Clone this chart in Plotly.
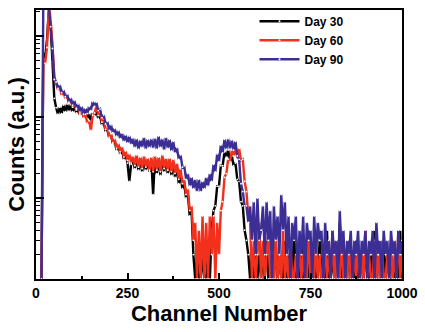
import plotly.graph_objects as go

channels = list(range(15, 1001, 5))

day30 = [
    1, 620, 520, 900, 2000, 1300, 480, 170, 130, 108,
    132, 110, 140, 116, 144, 118, 142, 116, 138, 112,
    130, 106, 124, 100, 118, 96, 110, 88, 112, 104,
    120, 96, 104, 80, 88, 66, 72, 55, 60, 47,
    51, 39, 45, 35, 40, 30, 36, 27, 16, 26,
    30, 23, 32, 22, 31, 21, 30, 22, 29, 21,
    30, 11, 31, 20, 30, 19, 32, 21, 30, 20,
    29, 19, 28, 18, 25, 15, 20, 13, 15, 10,
    11, 6, 7, 2, 1, 2, 1, 1, 2, 1,
    1, 2, 1, 4, 7, 8, 14, 14, 25, 25,
    37, 32, 39, 29, 33, 25, 27, 17, 16, 9,
    8, 4, 3, 2, 1, 2, 1, 3, 1, 2,
    1, 2, 1, 3, 1, 1, 2, 1, 3, 1,
    2, 1, 1, 3, 1, 2, 1, 1, 4, 1,
    2, 1, 3, 1, 1, 2, 1, 3, 1, 2,
    1, 1, 3, 1, 2, 1, 4, 1, 1, 2,
    1, 3, 1, 5, 1, 2, 1, 1, 3, 1,
    2, 1, 3, 1, 1, 2, 1, 3, 1, 1,
    2, 1, 4, 1, 2, 1, 1, 3, 1, 2,
    1, 3, 1, 1, 2, 1, 4, 1,
]

day60 = [
    1, 520, 460, 720, 2400, 1600, 780, 320, 260, 215,
    235, 185, 210, 168, 185, 148, 162, 132, 148, 122,
    135, 108, 120, 98, 108, 84, 90, 68, 105, 112,
    138, 104, 115, 86, 94, 70, 74, 56, 62, 48,
    54, 41, 47, 37, 43, 32, 38, 29, 35, 27,
    33, 25, 34, 24, 32, 23, 33, 24, 31, 22,
    32, 21, 33, 22, 32, 21, 34, 23, 31, 22,
    31, 21, 30, 20, 27, 17, 23, 15, 17, 11,
    13, 7, 8, 3, 5, 1, 4, 1, 6, 1,
    5, 1, 6, 2, 6, 1, 5, 2, 7, 9,
    18, 20, 30, 28, 39, 33, 43, 31, 41, 29,
    30, 16, 12, 6, 5, 1, 3, 1, 2, 5,
    1, 3, 1, 2, 4, 1, 2, 1, 3, 1,
    2, 1, 4, 1, 2, 1, 3, 1, 1, 2,
    1, 3, 1, 2, 1, 1, 4, 1, 2, 1,
    3, 1, 2, 1, 1, 3, 1, 2, 1, 4,
    1, 2, 1, 1, 3, 1, 2, 1, 3, 1,
    1, 2, 1, 3, 1, 2, 1, 4, 1, 2,
    1, 1, 3, 1, 2, 1, 3, 1, 1, 2,
    1, 3, 1, 2, 1, 4, 1, 2,
]

day90 = [
    1, 3200, 3600, 2600, 2300, 1300, 700, 290, 270, 225,
    250, 200, 215, 178, 192, 152, 172, 140, 160, 128,
    145, 115, 135, 108, 128, 110, 135, 120, 155, 135,
    152, 120, 125, 98, 106, 82, 88, 68, 80, 64,
    72, 58, 68, 54, 63, 50, 60, 48, 58, 46,
    55, 42, 54, 40, 52, 42, 56, 40, 53, 42,
    54, 41, 55, 40, 58, 42, 54, 39, 56, 41,
    53, 38, 50, 36, 42, 30, 34, 24, 25, 17,
    20, 14, 18, 13, 17, 12, 17, 12, 16, 13,
    18, 14, 20, 16, 26, 21, 35, 28, 45, 36,
    53, 40, 54, 40, 52, 39, 50, 33, 30, 15,
    12, 8, 8, 5, 8, 3, 9, 2, 10, 3,
    4, 8, 2, 9, 3, 7, 1, 8, 3, 6,
    2, 11, 4, 9, 2, 6, 1, 5, 3, 6,
    1, 4, 2, 6, 1, 5, 3, 4, 1, 6,
    2, 5, 3, 4, 1, 5, 2, 3, 1, 4,
    2, 3, 1, 7, 2, 4, 1, 3, 2, 4,
    1, 3, 2, 4, 1, 3, 2, 4, 1, 3,
    2, 4, 1, 5, 2, 3, 1, 4, 2, 3,
    1, 4, 2, 3, 1, 4, 2, 3,
]

series_names = ["Day 30", "Day 60", "Day 90"]
series_colors = ["#000000", "#f2301c", "#3b2f96"]
x_ticks = [0, 250, 500, 750, 1000]

fig = go.Figure()
for name, vals, col in zip(series_names, [day30, day60, day90], series_colors):
    fig.add_trace(go.Scatter(
        x=channels, y=vals, name=name, mode="lines+markers",
        line=dict(color=col, width=2.4),
        marker=dict(color="white", size=1.8, line=dict(width=0)),
    ))

font_family = "Liberation Sans, Arial, sans-serif"
fig.update_layout(
    width=425, height=332,
    margin=dict(l=36, r=17, t=7, b=53),
    paper_bgcolor="white", plot_bgcolor="white",
    font=dict(family=font_family, color="black"),
    showlegend=True,
    legend=dict(
        x=0.597, y=1.012, xanchor="left", yanchor="top",
        bgcolor="rgba(0,0,0,0)", font=dict(size=12, weight="bold"),
        itemwidth=40, tracegroupgap=0,
    ),
    xaxis=dict(
        range=[0, 1000], tickvals=x_ticks, ticks="inside", ticklen=6, tickwidth=1.5,
        tickcolor="black", showline=True, linewidth=2, linecolor="black", mirror=True,
        showgrid=False, zeroline=False,
        tickfont=dict(size=14, weight="bold"),
        minor=dict(ticks="inside", ticklen=3, tickwidth=1.5, tickcolor="black", dtick=125, showgrid=False),
        title=dict(text="Channel Number", font=dict(size=22, weight="bold"), standoff=5),
    ),
    yaxis=dict(
        type="log", range=[0, 3.32], dtick=1, ticks="inside", ticklen=8, tickwidth=1.5,
        tickcolor="black", showticklabels=False, showline=True, linewidth=2,
        linecolor="black", mirror=True, showgrid=False, zeroline=False,
        minor=dict(ticks="inside", ticklen=4, tickwidth=1, tickcolor="black", dtick="D1", showgrid=False),
        title=dict(text="Counts (a.u.)", font=dict(size=22, weight="bold"), standoff=3),
    ),
)

fig.write_html("out.html")
